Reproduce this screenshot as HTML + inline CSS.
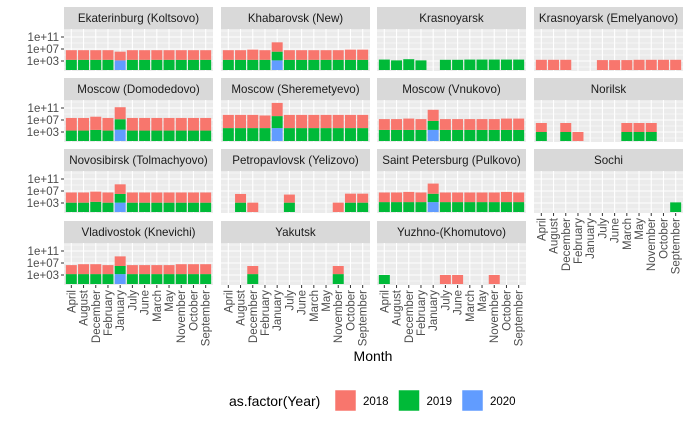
<!DOCTYPE html>
<html><head><meta charset="utf-8">
<style>
html,body{margin:0;padding:0;background:#fff;}
svg{display:block;font-family:"Liberation Sans",sans-serif;}
</style></head>
<body>
<svg id="chart" width="690" height="426" viewBox="0 0 690 426"></svg>
<script>
const months = ["April","August","December","February","January","July","June","March","May","November","October","September"];
const facetNames = ["Ekaterinburg (Koltsovo)","Khabarovsk (New)","Krasnoyarsk","Krasnoyarsk (Emelyanovo)","Moscow (Domodedovo)","Moscow (Sheremetyevo)","Moscow (Vnukovo)","Norilsk","Novosibirsk (Tolmachyovo)","Petropavlovsk (Yelizovo)","Saint Petersburg (Pulkovo)","Sochi","Vladivostok (Knevichi)","Yakutsk","Yuzhno-(Khomutovo)"];
const years = ["2018","2019","2020"];
const colors = ["#F8766D","#00BA38","#619CFF"];
const yTicks = [3,7,11];
const yTickLabels = ["1e+03","1e+07","1e+11"];
// values per facet, month order as above
const v2018 = [
 [1.6e3,1.6e3,1.6e3,1.6e3,8e2,1.6e3,1.6e3,1.6e3,1.6e3,1.6e3,1.6e3,1.6e3],
 [1.6e3,1.6e3,2.5e3,1.6e3,1.3e3,1.6e3,1.6e3,1.6e3,1.6e3,1.6e3,2.5e3,2.5e3],
 [0,0,0,0,0,0,0,0,0,0,0,0],
 [2.5e3,2.5e3,2.5e3,0,0,2e3,2e3,2e3,2.5e3,2.5e3,2.5e3,2.5e3],
 [1.6e4,1.6e4,2.5e4,1.6e4,1e4,1.6e4,1.6e4,1.6e4,1.6e4,1.6e4,1.6e4,1.6e4],
 [2.5e4,2.5e4,2.5e4,1.6e4,2.5e4,2.5e4,2.5e4,2.5e4,2.5e4,2.5e4,2.5e4,2.5e4],
 [4e3,4e3,6e3,4e3,5e3,4e3,4e3,4e3,4e3,4e3,6e3,6e3],
 [1e3,0,1e3,1e3,0,0,0,1e3,1e3,1e3,0,0],
 [2.5e3,2.5e3,2.5e3,2.5e3,1.6e3,2.5e3,2.5e3,2.5e3,2.5e3,2.5e3,2.5e3,2.5e3],
 [0,8e2,1.3e3,0,0,5e2,0,0,0,1.3e3,1e3,1e3],
 [1.6e3,1.6e3,2.5e3,1.6e3,2.5e3,1.6e3,1.6e3,1.6e3,1.6e3,1.6e3,2.5e3,1.6e3],
 [0,0,0,0,0,0,0,0,0,0,0,0],
 [1e3,2e3,2e3,1e3,1.6e3,1e3,1e3,1e3,1e3,2e3,2e3,2e3],
 [0,0,5e2,0,0,0,0,0,0,5e2,0,0],
 [0,0,0,0,0,1e3,1e3,0,0,1e3,0,0]
];
const v2019 = [
 [2.5e3,2.5e3,2.5e3,2.5e3,0,2.5e3,2.5e3,2.5e3,2.5e3,2.5e3,2.5e3,2.5e3],
 [2.5e3,2.5e3,2.5e3,2.5e3,8e2,2.5e3,2.5e3,2.5e3,2.5e3,2.5e3,2.5e3,2.5e3],
 [3e3,1.6e3,4e3,1.6e3,0,2.5e3,2.5e3,3e3,3e3,3e3,3e3,3e3],
 [0,0,0,0,0,0,0,0,0,0,0,0],
 [3e3,3e3,5e3,3e3,3e3,3e3,3e3,3e3,3e3,3e3,3e3,3e3],
 [2e4,2e4,2e4,2e4,1e4,2e4,2e4,2e4,2e4,2e4,2e4,2e4],
 [5e3,5e3,5e3,5e3,1e3,5e3,5e3,5e3,5e3,5e3,5e3,5e3],
 [1e3,0,1e3,0,0,0,0,1e3,1e3,1e3,0,0],
 [1.3e3,1.3e3,2.5e3,1.3e3,8e2,1.3e3,1.3e3,1.3e3,1.3e3,1.3e3,1.3e3,1.3e3],
 [0,1.3e3,0,0,0,1.3e3,0,0,0,0,1.3e3,1.3e3],
 [2e3,2e3,2e3,2e3,6e2,2e3,2e3,2e3,2e3,2e3,2e3,2e3],
 [0,0,0,0,0,0,0,0,0,0,0,1.6e3],
 [2e3,2e3,2e3,2e3,5e2,2e3,2e3,2e3,2e3,2e3,2e3,2e3],
 [0,0,2e3,0,0,0,0,0,0,2e3,0,0],
 [1e3,0,0,0,0,0,0,0,0,0,0,0]
];
const v2020 = [
 [0,0,0,0,1.6e3,0,0,0,0,0,0,0],
 [0,0,0,0,1.6e3,0,0,0,0,0,0,0],
 [0,0,0,0,0,0,0,0,0,0,0,0],
 [0,0,0,0,0,0,0,0,0,0,0,0],
 [0,0,0,0,6e3,0,0,0,0,0,0,0],
 [0,0,0,0,2e4,0,0,0,0,0,0,0],
 [0,0,0,0,5e3,0,0,0,0,0,0,0],
 [0,0,0,0,0,0,0,0,0,0,0,0],
 [0,0,0,0,1.3e3,0,0,0,0,0,0,0],
 [0,0,0,0,0,0,0,0,0,0,0,0],
 [0,0,0,0,2e3,0,0,0,0,0,0,0],
 [0,0,0,0,0,0,0,0,0,0,0,0],
 [0,0,0,0,2e3,0,0,0,0,0,0,0],
 [0,0,0,0,0,0,0,0,0,0,0,0],
 [0,0,0,0,0,0,0,0,0,0,0,0]
];

const NS="http://www.w3.org/2000/svg";
const svg=document.getElementById('chart');
function mk(tag,attrs,parent){const e=document.createElementNS(NS,tag);for(const k in attrs)e.setAttribute(k,attrs[k]);(parent||svg).appendChild(e);return e;}
const colX=[64,221,377,534], rowY=[7,78,149,221], PW=149, SH=22, PH=42;
const unit=PW/12.2;
function xC(i,x0){return x0+(i+0.6)*unit;}
function yL(l,pt){return pt+41-3*l;}
function lg(v){return v>0?Math.log10(v):0;}

facetNames.forEach((name,f)=>{
  const c=f%4, r=Math.floor(f/4), x0=colX[c], st=rowY[r], pt=st+SH;
  const g=mk('g',{});
  
  
  const strip=mk('rect',{x:x0,y:st,width:PW,height:SH,fill:'#D9D9D9'},g);
  
  
  const stxt=mk('text',{x:x0+PW/2,y:st+15,'text-anchor':'middle','font-size':'11.6',fill:'#1A1A1A'},g);
  stxt.textContent=name;
  
  
  const bg=mk('rect',{x:x0,y:pt,width:PW,height:PH,fill:'#EBEBEB'},g);
  
  
  [1,5,9,13].forEach(l=>mk('line',{x1:x0,x2:x0+PW,y1:yL(l,pt),y2:yL(l,pt),stroke:'#fff','stroke-width':0.6},g));
  yTicks.forEach(l=>mk('line',{x1:x0,x2:x0+PW,y1:yL(l,pt),y2:yL(l,pt),stroke:'#fff','stroke-width':1.1},g));
  months.forEach((m,i)=>mk('line',{x1:xC(i,x0),x2:xC(i,x0),y1:pt,y2:pt+PH,stroke:'#fff','stroke-width':1.1},g));
  const bw=0.9*unit;
  months.forEach((m,i)=>{
    let base=0;
    [[v2020,2],[v2019,1],[v2018,0]].forEach(([arr,k])=>{
      const h=lg(arr[f][i]); if(h<=0)return;
      const y1=yL(base+h,pt), y0=yL(base,pt);
      const b=mk('rect',{x:xC(i,x0)-bw/2,y:y1,width:bw,height:y0-y1,fill:colors[k]},g);
      
      
      base+=h;
    });
  });
  if(c===0){
    yTicks.forEach((l,j)=>{
      mk('line',{x1:x0-3,x2:x0,y1:yL(l,pt),y2:yL(l,pt),stroke:'#333','stroke-width':1},g);
      const t=mk('text',{x:x0-5,y:yL(l,pt)+4,'text-anchor':'end','font-size':'11.5',fill:'#4D4D4D'},g);
      t.textContent=yTickLabels[j];
      
      
    });
  }
  if(r===3 || (r===2 && c===3)){
    months.forEach((m,i)=>{
      const x=xC(i,x0), yb=pt+PH;
      mk('line',{x1:x,x2:x,y1:yb,y2:yb+3,stroke:'#333','stroke-width':1},g);
      const t=mk('text',{x:0,y:0,'text-anchor':'end','font-size':'11.5',fill:'#4D4D4D',transform:`translate(${x+4},${yb+5}) rotate(-90)`},g);
      t.textContent=m;
      
      
    });
  }
});
const xt=mk('text',{x:373,y:361,'text-anchor':'middle','font-size':'14',fill:'#000'});
xt.textContent='Month';


const lgd=mk('g',{});


const lt=mk('text',{x:229,y:406,'font-size':'14',fill:'#000'},lgd);
lt.textContent='as.factor(Year)';


years.forEach((yr,k)=>{
  const x=335+k*63.5;
  const key=mk('rect',{x:x,y:390,width:21,height:21,fill:colors[k],stroke:'#fff','stroke-width':0.5},lgd);
  
  
  const t=mk('text',{x:x+28,y:405,'font-size':'11.5',fill:'#000'},lgd);
  t.textContent=yr;
  
  
});
</script>
</body></html>
